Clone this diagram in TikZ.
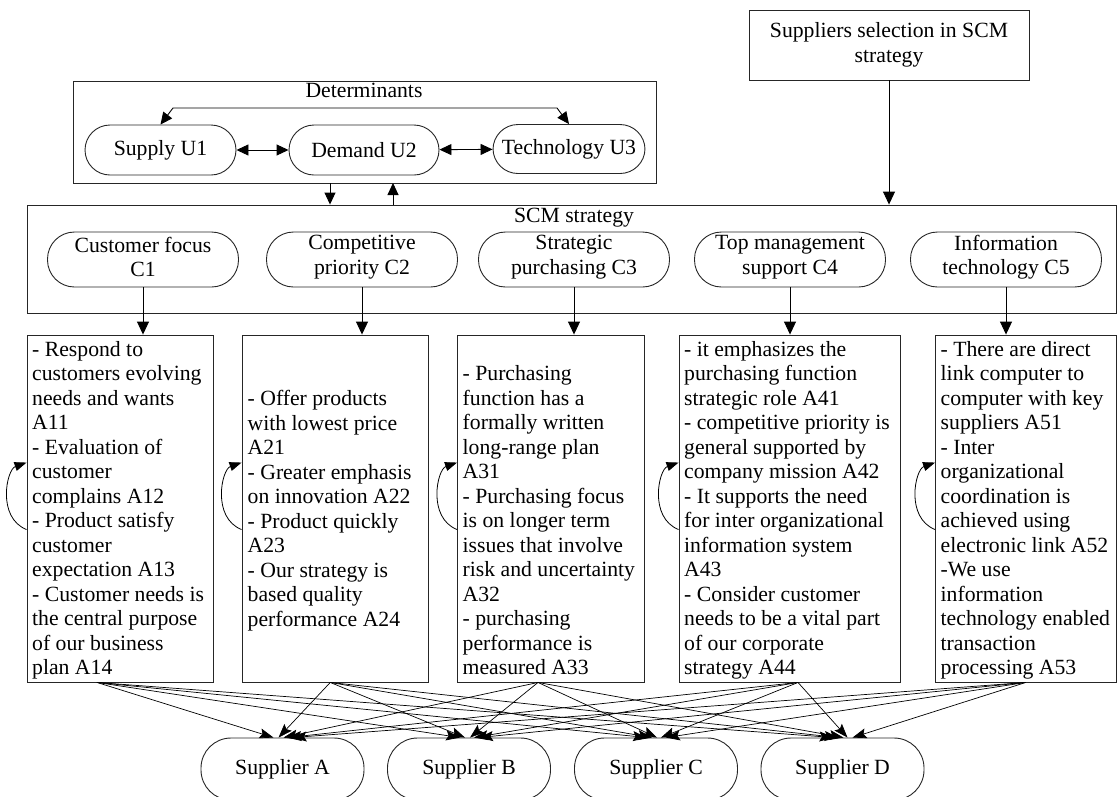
\documentclass[tikz,border=0pt]{standalone}
\usepackage{fontspec}
\setmainfont{Liberation Serif}
\usetikzlibrary{arrows.meta,calc}
\newcommand\myfs{\fontsize{21.7pt}{24.5pt}\selectfont}
\begin{document}
\begin{tikzpicture}[x=1pt,y=-1pt,
  every node/.style={font=\myfs},
  box/.style={draw=black!85, line width=0.9pt, rectangle, inner sep=0pt},
  pill/.style={draw=black!85, line width=0.9pt, rectangle, rounded corners=#1, inner sep=0pt, align=center},
  txt/.style={inner sep=0pt, align=left, anchor=north west},
  lab/.style={inner sep=0pt, align=center},
  arr/.style={-{Triangle[length=13pt,width=12pt]}, line width=0.9pt},
  sarr/.style={-{Triangle[length=12pt,width=11pt]}, line width=0.9pt},
  darr/.style={{Triangle[length=12pt,width=11pt]}-{Triangle[length=12pt,width=11pt]}, line width=0.9pt},
  carr/.style={-{Triangle[length=12pt,width=9pt]}, line width=0.8pt},
  supa/.style={-{Stealth[length=14pt,width=10pt,inset=2.5pt]}, line width=0.7pt}
]
\useasboundingbox (0,0) rectangle (1118,796);

% Suppliers selection box
\node[box, minimum width=280pt, minimum height=70pt, align=center] (sel) at (889,45) {Suppliers selection in SCM\\strategy};

% Determinants
\node[box, minimum width=583pt, minimum height=102pt] (det) at (364.5,132) {};
\node[lab] (dett) at (364,90) {Determinants};
\node[pill=25pt, minimum width=151pt, minimum height=50pt] (U1) at (160.5,150) {Supply U1};
\node[pill=25pt, minimum width=150pt, minimum height=50pt] (U2) at (364,150) {Demand U2};
\node[pill=25pt, minimum width=152pt, minimum height=49pt] (U3) at (569,149) {Technology U3};
\draw[darr] (U1) -- (U2);
\draw[darr] (U2) -- (U3);
\coordinate (b1) at (173,108);
\coordinate (b2) at (557,108);
\draw[darr] (U1.north) -- (b1) -- (b2) -- (U3.north);

% SCM strategy
\node[box, minimum width=1089pt, minimum height=108pt] (scm) at (571.5,259) {};
\node[lab] (scmt) at (574,218) {SCM strategy};
\coordinate (dx1) at (330,183);
\coordinate (dx2) at (393,183);
\draw[sarr] (dx1) -- (dx1 |- scm.north);
\draw[sarr] (dx2 |- scm.north) -- (dx2);
\draw[arr] (sel.south) -- (sel.south |- scm.north);

\node[pill=27pt, minimum width=191pt, minimum height=55pt] (C1) at (143,259.5) {};
\node[lab] (C1t) at (143,257) {Customer focus\\C1};
\node[pill=27pt, minimum width=191pt, minimum height=55pt] (C2) at (362,259.5) {};
\node[lab] (C2t) at (362,257) {Competitive\\priority C2};
\node[pill=27pt, minimum width=191pt, minimum height=55pt] (C3) at (574,259.5) {};
\node[lab] (C3t) at (574,257) {Strategic\\purchasing C3};
\node[pill=27pt, minimum width=191pt, minimum height=55pt] (C4) at (790,259.5) {};
\node[lab] (C4t) at (790,257) {Top management\\support C4};
\node[pill=27pt, minimum width=191pt, minimum height=55pt] (C5) at (1006,259.5) {};
\node[lab] (C5t) at (1006,257) {Information\\technology C5};

% A boxes
\node[box, minimum width=186pt, minimum height=347pt] (A1) at (120,508.5) {};
\node[box, minimum width=186.5pt, minimum height=347pt] (A2) at (335.25,508.5) {};
\node[box, minimum width=187pt, minimum height=347pt] (A3) at (551,508.5) {};
\node[box, minimum width=221pt, minimum height=347pt] (A4) at (789.5,508.5) {};
\node[box, minimum width=180.5pt, minimum height=347pt] (A5) at (1025.75,508.5) {};

\foreach \c/\a in {C1/A1,C2/A2,C3/A3,C4/A4,C5/A5}{
  \draw[arr] (\c.south) -- (\c.south |- \a.north);
  \draw[carr] ($(\a.north west)+(0,195)$) .. controls ($(\a.north west)+(-30,183)$) and ($(\a.north west)+(-20,135)$) .. ($(\a.north west)+(0,128)$);
}

\node[txt] (A1t) at (32,340) {\rule{0pt}{16pt}- Respond to\\customers evolving\\needs and wants\\A11\\- Evaluation of\\customer\\complains A12\\- Product satisfy\\customer\\expectation A13\\- Customer needs is\\the central purpose\\of our business\\plan A14};
\node[txt] (A2t) at (247.5,389.5) {\rule{0pt}{16pt}- Offer products\\with lowest price\\A21\\- Greater emphasis\\on innovation A22\\- Product quickly\\A23\\- Our strategy is\\based quality\\performance A24};
\node[txt] (A3t) at (462.5,364.5) {\rule{0pt}{16pt}- Purchasing\\function has a\\formally written\\long-range plan\\A31\\- Purchasing focus\\is on longer term\\issues that involve\\risk and uncertainty\\A32\\- purchasing\\performance is\\measured A33};
\node[txt] (A4t) at (684,340) {\rule{0pt}{16pt}- it emphasizes the\\purchasing function\\strategic role A41\\- competitive priority is\\general supported by\\company mission A42\\- It supports the need\\for inter organizational\\information system\\A43\\- Consider customer\\needs to be a vital part\\of our corporate\\strategy A44};
\node[txt] (A5t) at (940.5,340) {\rule{0pt}{16pt}- There are direct\\link computer to\\computer with key\\suppliers A51\\- Inter\\organizational\\coordination is\\achieved using\\electronic link A52\\-We use\\information\\technology enabled\\transaction\\processing A53};

% Suppliers
\node[pill=30pt, minimum width=163pt, minimum height=62pt] (SA) at (282.5,769) {Supplier A};
\node[pill=30pt, minimum width=163pt, minimum height=62pt] (SB) at (469,769) {Supplier B};
\node[pill=30pt, minimum width=163pt, minimum height=62pt] (SC) at (656,769) {Supplier C};
\node[pill=30pt, minimum width=163pt, minimum height=62pt] (SD) at (842.5,769) {Supplier D};

\foreach \a/\dx/\off in {A1/-23/-9, A2/-5/-4, A3/-13/1, A4/8.5/5, A5/0/10}{
  \foreach \s in {SA,SB,SC,SD}{
    \draw[supa] ($(\a.south)+(\dx,0)$) -- ($(\s.north)+(\off,0)$);
  }
}
\end{tikzpicture}
\end{document}
